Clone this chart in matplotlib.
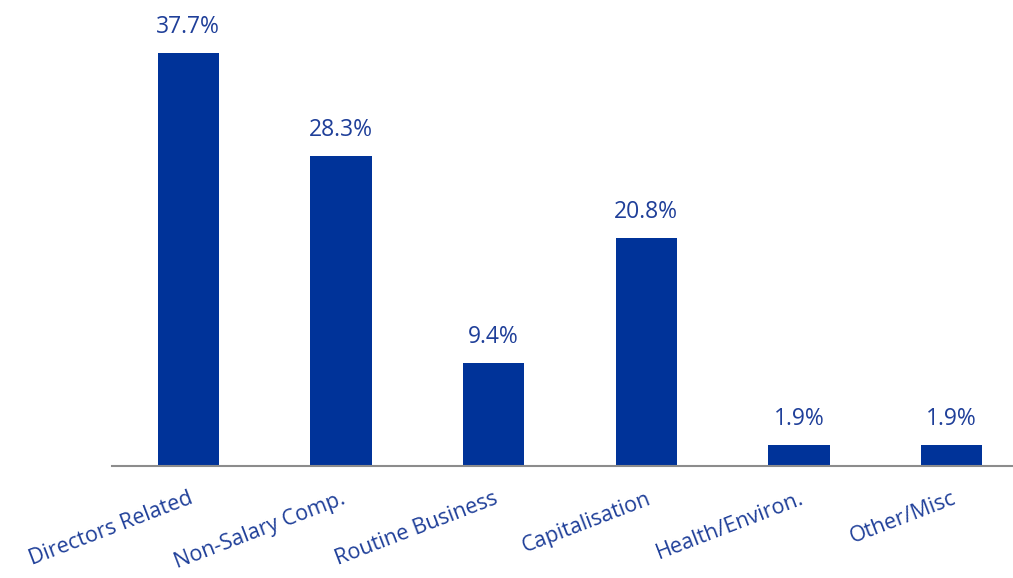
import matplotlib
matplotlib.use("Agg")
import matplotlib.pyplot as plt

categories = ["Directors Related", "Non-Salary Comp.", "Routine Business",
              "Capitalisation", "Health/Environ.", "Other/Misc"]
shares = [37.7, 28.3, 9.4, 20.8, 1.9, 1.9]

bar_color = "#003399"
text_color = "#1F3F99"

plt.rcParams["font.family"] = ["Open Sans", "DejaVu Sans"]

fig = plt.figure(figsize=(10.13, 5.78), dpi=100)
# axes spans from the left of the first slot to past the right figure edge
ax = fig.add_axes([112 / 1013, (578 - 466) / 578, 916 / 1013, 466 / 578])

x = range(len(categories))
bars = ax.bar(x, shares, width=0.4, color=bar_color, zorder=2)
ax.set_xlim(-0.5, len(categories) - 0.5)
ax.set_ylim(0, 42.5)

for rect, v in zip(bars, shares):
    ax.annotate(f"{v:.1f}%", (rect.get_x() + rect.get_width() / 2, v),
                xytext=(0, 10), textcoords="offset points",
                ha="center", va="bottom", fontsize=16.5, color=text_color)

for s in ["top", "right", "left"]:
    ax.spines[s].set_visible(False)
ax.spines["bottom"].set_color("#8C8C8C")
ax.spines["bottom"].set_linewidth(1.5)
ax.set_yticks([])
ax.set_xticks(list(x))
ax.set_xticklabels(categories, rotation=21, ha="right", va="top",
                   rotation_mode="anchor", fontsize=15.5, color=text_color)
ax.tick_params(axis="x", length=0, pad=16)

fig.savefig("out.png", dpi=100)
